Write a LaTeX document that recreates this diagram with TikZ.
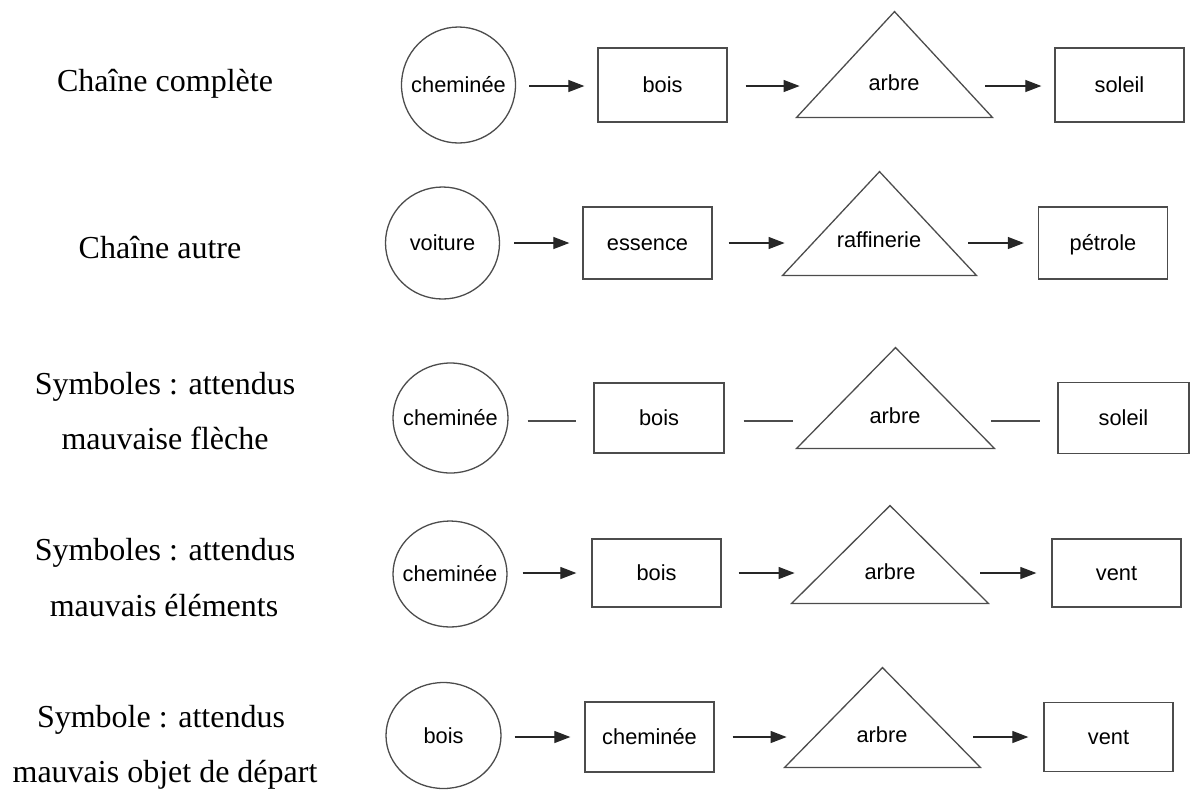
\documentclass[tikz,border=0pt]{standalone}
\usepackage{fontspec}
\setmainfont{Liberation Serif}
\newfontfamily\nodefont{Liberation Sans}
\usetikzlibrary{arrows.meta,shapes.geometric,calc}
\tikzset{
  shapeline/.style={draw=black!70, line width=0.65pt},
  txt/.style={font=\nodefont\fontsize{10.9}{13}\selectfont, text height=7.8pt, text depth=0pt, inner sep=0pt},
  rond/.style={shapeline, ellipse, inner sep=0pt, minimum width=57pt, minimum height=57pt},
  intxt/.style={label={[txt]center:#1}},
  boite/.style={shapeline, txt, rectangle, minimum width=64.5pt, minimum height=36pt},
  tribox/.style={rectangle, inner sep=0pt, draw=none},
  arr/.style={black!85, line width=0.6pt, -{Triangle[length=8pt,width=6pt]}},
  ligne/.style={black!70, line width=0.6pt},
  lab/.style={font=\fontsize{16}{19}\selectfont, anchor=base, inner sep=0pt}
}
\begin{document}
\begin{tikzpicture}[x=0.5pt,y=-0.5pt]
\useasboundingbox (0,0) rectangle (1195,789);

% left labels
\node[lab] (l1) at (165,91) {Chaîne complète};
\node[lab] (l2) at (160,258) {Chaîne autre};
\node[lab] (l3a) at (165,394) {Symboles : attendus};
\node[lab] (l3b) at (165,449) {mauvaise flèche};
\node[lab] (l4a) at (165,560) {Symboles : attendus};
\node[lab] (l4b) at (164,616) {mauvais éléments};
\node[lab] (l5a) at (161,727) {Symbole : attendus};
\node[lab] (l5b) at (165,782) {mauvais objet de départ};

% ---------- row 1
\node[rond, minimum height=58pt, intxt={cheminée}] (c1) at (458.5,85) {};
\node[boite, minimum height=37pt] (b1) at (662.5,85) {bois};
\node[tribox, minimum width=97.5pt, minimum height=52.5pt] (t1) at (894.5,64.5) {};
\draw[shapeline] (t1.south west) -- (t1.north) -- (t1.south east) -- cycle;
\node[txt] (t1t) at (894,82.3) {arbre};
\node[boite, minimum height=37pt] (s1) at (1119.5,85) {soleil};
\draw[arr] ($(c1.east)+(13,1)$) -- ($(b1.west)+(-13,1)$);
\draw[arr] ($(b1.east)+(18,1)$) -- ($(t1.south west |- b1.west)+(3,1)$);
\draw[arr] ($(t1.south east |- s1.west)+(-7,1)$) -- ($(s1.west)+(-13,1)$);

% ---------- row 2
\node[rond, minimum height=56pt, intxt={voiture}] (c2) at (442.5,243) {};
\node[boite] (b2) at (647.5,243) {essence};
\node[tribox, minimum width=96.5pt, minimum height=51.5pt] (t2) at (879.5,223.5) {};
\draw[shapeline] (t2.south west) -- (t2.north) -- (t2.south east) -- cycle;
\node[txt] (t2t) at (879,240) {raffinerie};
\node[boite] (s2) at (1103,243) {pétrole};
\draw[arr] ($(c2.east)+(14,0)$) -- ($(b2.west)+(-13,0)$);
\draw[arr] ($(b2.east)+(16,0)$) -- ($(t2.south west |- b2.west)+(2,0)$);
\draw[arr] ($(t2.south east |- s2.west)+(-8,0)$) -- ($(s2.west)+(-14,0)$);

% ---------- row 3
\node[rond, minimum width=57.5pt, minimum height=55pt, intxt={cheminée}] (c3) at (450.5,418) {};
\node[boite, minimum width=65pt, minimum height=35pt] (b3) at (659,418) {bois};
\node[tribox, minimum width=98.5pt, minimum height=50pt] (t3) at (895.5,398) {};
\draw[shapeline] (t3.south west) -- (t3.north) -- (t3.south east) -- cycle;
\node[txt] (t3t) at (895,415.5) {arbre};
\node[boite, minimum width=65.5pt, minimum height=35.5pt] (s3) at (1123.5,418) {soleil};
\draw[ligne] ($(c3.east)+(19,3)$) -- ($(b3.west)+(-17,3)$);
\draw[ligne] ($(b3.east)+(19,3)$) -- ($(t3.south west |- b3.west)+(-4,3)$);
\draw[ligne] ($(t3.south east |- s3.west)+(-3,3)$) -- ($(s3.west)+(-17,3)$);

% ---------- row 4
\node[rond, minimum height=53pt, intxt={cheminée}] (c4) at (450,574) {};
\node[boite, minimum height=34pt] (b4) at (656.5,573) {bois};
\node[tribox, minimum width=98pt, minimum height=48.5pt] (t4) at (890,554.5) {};
\draw[shapeline] (t4.south west) -- (t4.north) -- (t4.south east) -- cycle;
\node[txt] (t4t) at (890,571.5) {arbre};
\node[boite, minimum height=34pt] (s4) at (1116.5,573) {vent};
\draw[arr] ($(c4.east)+(15,-1)$) -- ($(b4.west)+(-15,0)$);
\draw[arr] ($(b4.east)+(17,0)$) -- ($(t4.south west |- b4.west)+(3,0)$);
\draw[arr] ($(t4.south east |- s4.west)+(-8,0)$) -- ($(s4.west)+(-15,0)$);

% ---------- row 5
\node[rond, minimum width=57.5pt, minimum height=53pt, intxt={bois}] (c5) at (443.5,735.5) {};
\node[boite, minimum height=35pt] (b5) at (649.5,737) {cheminée};
\node[tribox, minimum width=97.5pt, minimum height=49.5pt] (t5) at (882.5,717.5) {};
\draw[shapeline] (t5.south west) -- (t5.north) -- (t5.south east) -- cycle;
\node[txt] (t5t) at (882,735) {arbre};
\node[boite, minimum height=34.5pt] (s5) at (1108.5,737) {vent};
\draw[arr] ($(c5.east)+(13,1.5)$) -- ($(b5.west)+(-14,0)$);
\draw[arr] ($(b5.east)+(18,0)$) -- ($(t5.south west |- b5.west)+(2,0)$);
\draw[arr] ($(t5.south east |- s5.west)+(-7,0)$) -- ($(s5.west)+(-15,0)$);
\end{tikzpicture}
\end{document}
